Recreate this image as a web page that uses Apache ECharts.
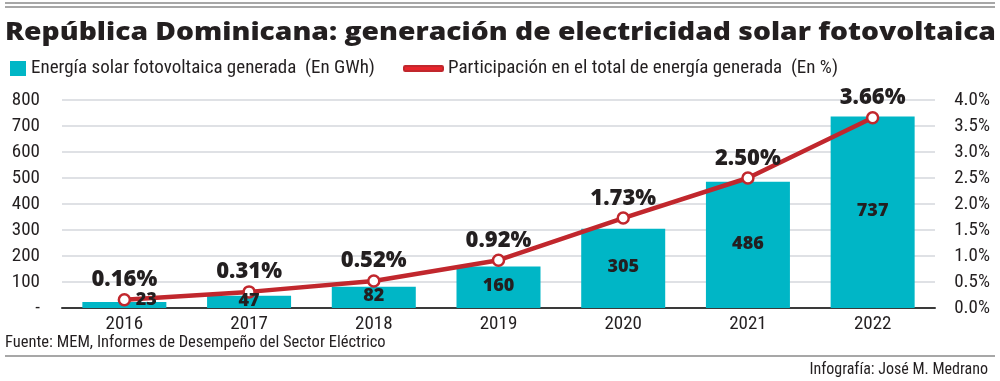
<!DOCTYPE html>
<html>
<head>
<meta charset="utf-8">
<script src="https://cdn.jsdelivr.net/npm/echarts@6/dist/echarts.min.js"></script>
<style>html,body{margin:0;padding:0;background:#fff}#c{width:1000px;height:381px}</style>
</head>
<body>
<div id="c"></div>
<script>
const titleText = 'República Dominicana: generación de electricidad solar fotovoltaica';
const barName = 'Energía solar fotovoltaica generada  (En GWh)';
const lineName = 'Participación en el total de energía generada  (En %)';
const sourceText = 'Fuente: MEM, Informes de Desempeño del Sector Eléctrico';
const creditText = 'Infografía: José M. Medrano';
const years = ['2016', '2017', '2018', '2019', '2020', '2021', '2022'];
const gwh = [23, 47, 82, 160, 305, 486, 737];
const pct = [0.16, 0.31, 0.52, 0.92, 1.73, 2.50, 3.66];

const COND = 'Roboto';
const BOLD = 'Open Sans';
const ink = '#231f20';
const txt = {fontFamily: COND, fontStyle: 'condensed', color: ink};

// label layer for the bars, drawn above the line (same values, transparent bars)
const barLabelData = gwh.map(v => ({value: v, label: {offset: v < 30 ? [22, -5] : [0, -1]}}));

const chart = echarts.init(document.getElementById('c'), null, {renderer: 'canvas'});
chart.setOption({
  animation: false,
  graphic: [
    {type: 'line', shape: {x1: 5, y1: 3, x2: 995, y2: 3}, style: {stroke: '#8a8a8a', lineWidth: 1.5}},
    {type: 'line', shape: {x1: 5, y1: 7, x2: 995, y2: 7}, style: {stroke: '#8a8a8a', lineWidth: 1.5}},
    {type: 'text', x: 5, y: 20, scaleX: 1.13,
     style: {text: titleText, fontFamily: BOLD, fontWeight: 800, fontSize: 25, fill: ink}},
    {type: 'text', x: 5, y: 334,
     style: {text: sourceText, fontFamily: COND, fontStyle: 'condensed', fontSize: 16.5, fill: ink}},
    {type: 'line', shape: {x1: 5, y1: 356, x2: 995, y2: 356}, style: {stroke: '#8a8a8a', lineWidth: 1.5}},
    {type: 'text', right: 12, top: 362,
     style: {text: creditText, fontFamily: COND, fontStyle: 'condensed', fontSize: 16, fill: ink}}
  ],
  legend: [
    {data: [barName], left: 5, top: 54, icon: 'rect', itemWidth: 16, itemHeight: 15,
     textStyle: Object.assign({fontSize: 19}, txt)},
    {data: [{name: lineName, itemStyle: {color: '#e8242b'}}], left: 398, top: 54, icon: 'roundRect',
     itemWidth: 39, itemHeight: 5,
     textStyle: Object.assign({fontSize: 19}, txt)}
  ],
  grid: {left: 62, right: 65, top: 100, bottom: 73, containLabel: false},
  xAxis: {
    type: 'category', data: years,
    axisLine: {lineStyle: {color: '#3a3a3a', width: 2}},
    axisTick: {show: false},
    axisLabel: Object.assign({fontSize: 19, margin: 7}, txt)
  },
  yAxis: [
    {type: 'value', min: 0, max: 800, interval: 100,
     axisLine: {show: false}, axisTick: {show: false},
     axisLabel: Object.assign({fontSize: 19, margin: 22,
       formatter: v => v === 0 ? '-' : String(v)}, txt),
     splitLine: {lineStyle: {color: '#d5d7dd', width: 1.5}}},
    {type: 'value', min: 0, max: 4, interval: 0.5,
     axisLine: {show: false}, axisTick: {show: false},
     axisLabel: Object.assign({fontSize: 19, margin: 55, align: 'right',
       formatter: v => v.toFixed(1) + '%'}, txt),
     splitLine: {show: false}}
  ],
  series: [
    {name: barName, type: 'bar', data: gwh, barWidth: 84, yAxisIndex: 0, z: 2,
     itemStyle: {color: '#00b6c6'}},
    {name: lineName, type: 'line', data: pct, yAxisIndex: 1, z: 5,
     lineStyle: {color: '#c1272d', width: 4.5},
     itemStyle: {color: '#fff', borderColor: '#c1272d', borderWidth: 2.5},
     symbol: 'circle', symbolSize: 11,
     label: {show: true, position: 'top', distance: 2, fontFamily: BOLD, fontWeight: 800, fontSize: 22, color: ink,
       formatter: p => p.value.toFixed(2) + '%'}},
    {name: 'labels', type: 'bar', data: barLabelData, barWidth: 84, barGap: '-100%', yAxisIndex: 0, z: 8,
     itemStyle: {color: 'rgba(0,0,0,0)'}, silent: true, legendHoverLink: false,
     label: {show: true, position: 'inside', fontFamily: BOLD, fontWeight: 800, fontSize: 18, color: ink}}
  ]
});
</script>
</body>
</html>
